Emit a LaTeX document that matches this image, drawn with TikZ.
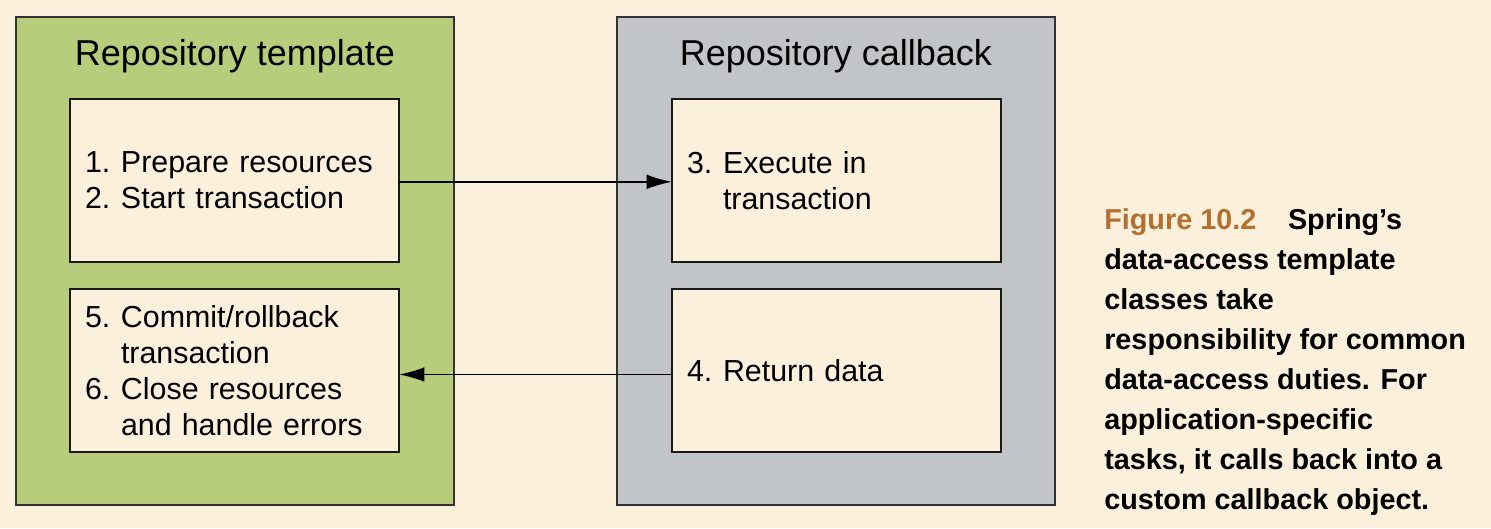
\documentclass[tikz,border=0pt]{standalone}
\usepackage{fontspec}
\setmainfont{Liberation Sans}
\usetikzlibrary{positioning,arrows.meta}
\definecolor{bgcream}{HTML}{FBF0DC}
\definecolor{tplgreen}{HTML}{B8CD7B}
\definecolor{cbkgray}{HTML}{C2C5C8}
\definecolor{figbrown}{HTML}{B5702F}
\newcommand{\itemno}[1]{\makebox[27pt][l]{#1}}

\begin{document}
\begin{tikzpicture}[x=0.75pt,y=-0.75pt,
				outerbox/.style={draw=black!80,line width=1.5pt,minimum width=328.5pt,minimum height=366pt,outer sep=0pt,inner sep=0pt},
				title/.style={font=\fontsize{27pt}{32pt}\selectfont,anchor=base},
				block/.style={draw=black!90,line width=1.5pt,fill=bgcream,minimum width=246.75pt,minimum height=122.25pt,
					inner xsep=11.25pt,text width=224.25pt,align=left,outer sep=0pt,node distance=20.25pt,
					font=\fontsize{22.8pt}{27pt}\selectfont},
				arr/.style={line width=1.4pt,-{Latex[length=19pt,width=11pt]}}]
				\fill[bgcream] (0,0) rectangle (1491,528);
				\node (TPL)      [outerbox,fill=tplgreen] at (235,261) {};
				\node (CBK)      [outerbox,fill=cbkgray]  at (836,261) {};
				\node (TPLTITLE) [title] at (235,65) {Repository template};
				\node (CBKTITLE) [title] at (836,65) {Repository callback};
				\node (PREP)     [block] at (234.5,180.5) {\itemno{1.}Prepare resources\\ \itemno{2.}Start transaction};
				\node (COMMIT)   [block,below=of PREP]    {\itemno{5.}Commit/rollback\\ \itemno{}transaction\\
					\itemno{6.}Close resources\\ \itemno{}and handle errors};
				\node (EXEC)     [block] at (836.5,180.5) {\itemno{3.}Execute in\\ \itemno{}transaction};
				\node (RET)      [block,below=of EXEC]    {\itemno{4.}Return data};
				\node (CAPTION)  [anchor=north west,align=left,inner sep=0pt,font=\bfseries\fontsize{21.6pt}{30pt}\selectfont]
					at (1104,208) {\textcolor{figbrown}{Figure 10.2}\hspace{1.1em}Spring’s\\ data-access template\\ classes take\\
					responsibility for common\\ data-access duties. For\\ application-specific\\ tasks, it calls back into a\\
					custom callback object.};
				
				\draw[arr] ([yshift=-1pt]PREP.east) -- ([yshift=-1pt]EXEC.west);
				\draw[arr] ([yshift=-3pt]RET.west)  -- ([yshift=-3pt]COMMIT.east);
			\end{tikzpicture}
\end{document}
